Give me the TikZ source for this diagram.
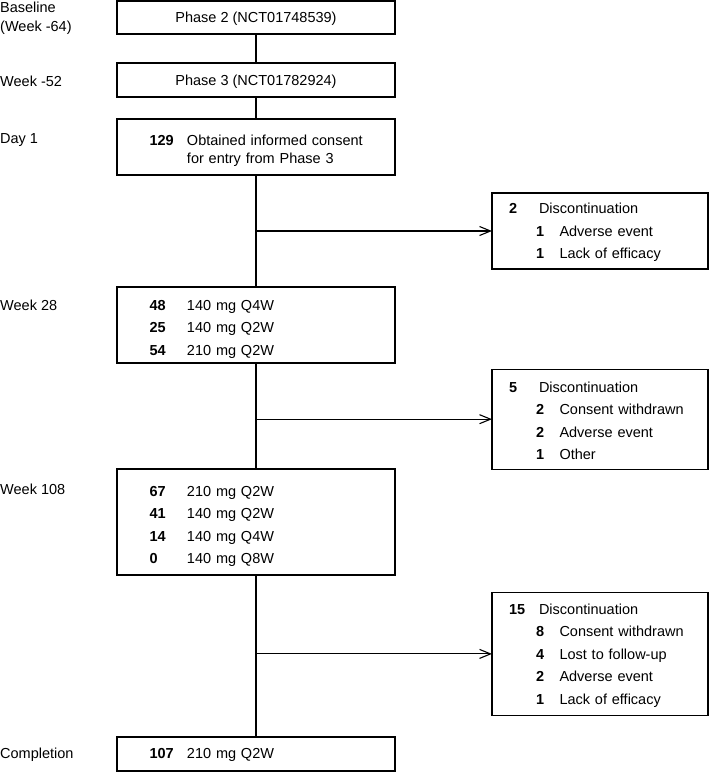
\documentclass[tikz,border=0pt]{standalone}
\usepackage{fontspec}
\setmainfont{Liberation Sans}
\usetikzlibrary{arrows.meta,positioning,calc}
\tikzset{
    %Define style for the boxes of the main column
    mainbox/.style={
             draw, line width=1.1pt,
             minimum width=278pt,
             inner sep=0pt, outer sep=0pt},
    listbox/.style={
             mainbox,
             text width=278pt, text height=18.6pt,
             align=left},
    %Define style for the discontinuation boxes
    dropbox/.style={
             draw, line width=1.1pt,
             minimum width=216pt, text width=216pt,
             inner sep=0pt, outer sep=0pt,
             text height=13.6pt,
             align=left},
    timelabel/.style={
             anchor=west,
             align=left,
             inner sep=0pt},
    % Define line and arrow style
    flowline/.style={
            line width=1.1pt},
    droparrow/.style={
            flowline,
            -{Straight Barb[length=11pt,width=9pt]}}
}
\newcommand{\dose}[2]{\hspace*{32.5pt}\makebox[37.5pt][l]{\textbf{#1}}#2}
\newcommand{\disc}[2]{\hspace*{17pt}\makebox[30pt][l]{\textbf{#1}}#2}
\newcommand{\reason}[2]{\hspace*{44pt}\makebox[23.5pt][l]{\textbf{#1}}#2}

\begin{document}
\begin{tikzpicture}[x=1pt, y=-1pt, font=\fontsize{14.5}{22.5}\selectfont]
 \useasboundingbox (0,0) rectangle (709,772);
 \node[mainbox, minimum height=33pt, text depth=0pt] (ph2) at (256,17.5) {Phase 2 (NCT01748539)};
 \node[mainbox, minimum height=34pt, text depth=0pt, below=29pt of ph2] (ph3) {Phase 3 (NCT01782924)};
 \node[listbox, minimum height=56pt, below=22pt of ph3, font=\fontsize{14.5}{18}\selectfont] (day1)
      {\dose{129}{Obtained informed consent}\\\dose{}{for entry from Phase 3}};
 \node[listbox, minimum height=76pt, below=112pt of day1] (wk28)
      {\dose{48}{140 mg Q4W}\\\dose{25}{140 mg Q2W}\\\dose{54}{210 mg Q2W}};
 \node[listbox, minimum height=106pt, below=106pt of wk28] (wk108)
      {\dose{67}{210 mg Q2W}\\\dose{41}{140 mg Q2W}\\\dose{14}{140 mg Q4W}\\\dose{0}{140 mg Q8W}};
 \node[listbox, minimum height=34pt, text height=12pt, below=162pt of wk108] (compl)
      {\dose{107}{210 mg Q2W}};
 % junctions on the main line
 \coordinate (j1) at ($(day1.south)!0.5!(wk28.north)$);
 \coordinate (j2) at ($(wk28.south)!0.53!(wk108.north)$);
 \coordinate (j3) at ($(wk108.south)!0.487!(compl.north)$);
 \node[dropbox, minimum height=76pt, right=236pt of j1] (drop1)
      {\disc{2}{Discontinuation}\\\reason{1}{Adverse event}\\\reason{1}{Lack of efficacy}};
 \node[dropbox, minimum height=100pt, right=236pt of j2] (drop2)
      {\disc{5}{Discontinuation}\\\reason{2}{Consent withdrawn}\\\reason{2}{Adverse event}\\\reason{1}{Other}};
 \node[dropbox, minimum height=123pt, right=236pt of j3] (drop3)
      {\disc{15}{Discontinuation}\\\reason{8}{Consent withdrawn}\\\reason{4}{Lost to follow-up}\\\reason{2}{Adverse event}\\\reason{1}{Lack of efficacy}};
 % time points
 \node[timelabel, font=\fontsize{14.5}{19}\selectfont] (lbase) at (0,18) {Baseline\\(Week -64)};
 \node[timelabel] (lw52) at (0,81) {Week -52};
 \node[timelabel] (lday1) at (0,140) {Day 1};
 \node[timelabel] (lw28) at (0,305) {Week 28};
 \node[timelabel] (lw108) at (0,489) {Week 108};
 \node[timelabel] (lcompl) at (0,755) {Completion};
 \draw[flowline] (ph2) -- (ph3);
 \draw[flowline] (ph3) -- (day1);
 \draw[flowline] (day1) -- (wk28);
 \draw[flowline] (wk28) -- (wk108);
 \draw[flowline] (wk108) -- (compl);
 \draw[droparrow] (j1) -- (drop1);
 \draw[droparrow] (j2) -- (drop2);
 \draw[droparrow] (j3) -- (drop3);
\end{tikzpicture}
\end{document}
